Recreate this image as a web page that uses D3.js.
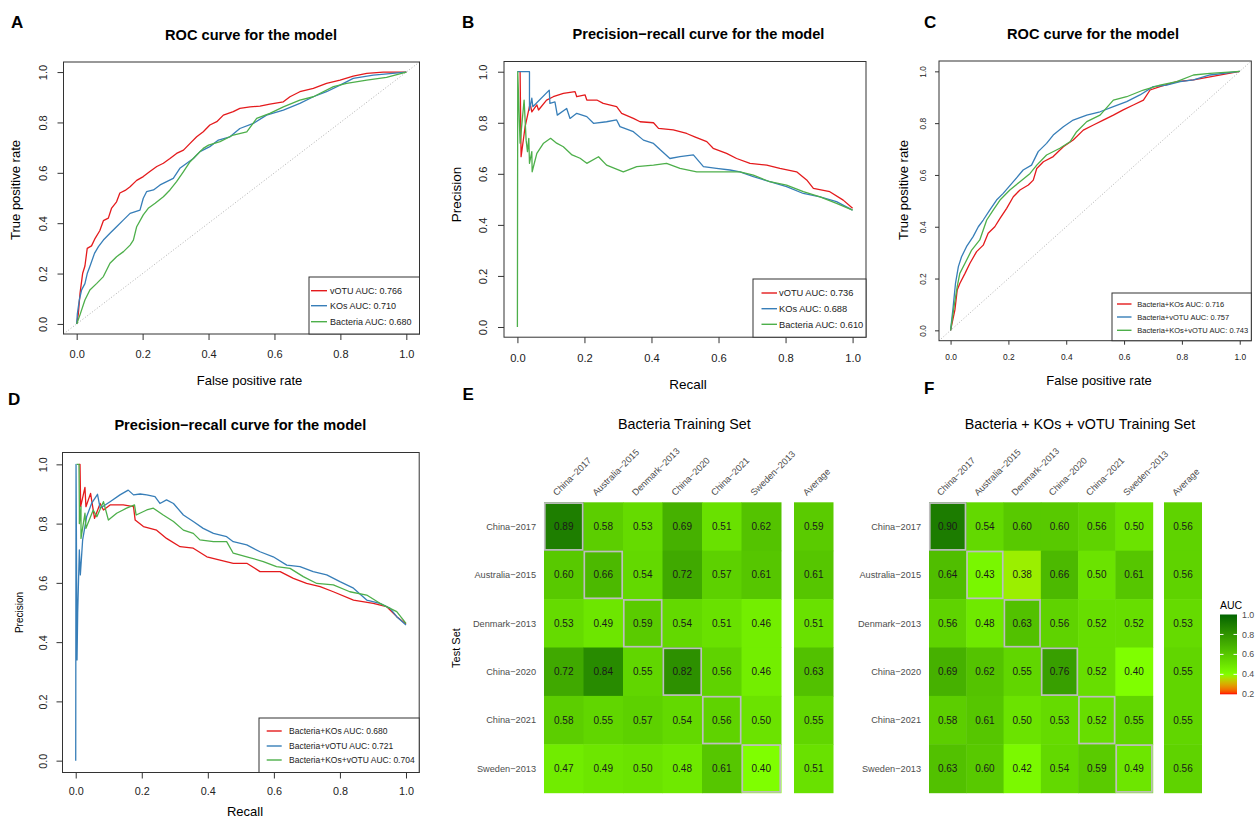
<!DOCTYPE html>
<html>
<head>
<meta charset="utf-8">
<script src="https://cdn.jsdelivr.net/npm/d3@7"></script>
<style>
  html, body { margin: 0; padding: 0; background: #fff; }
  svg { display: block; }
</style>
</head>
<body>
<svg id="chart" width="1258" height="820"></svg>
<script>
// ---------------- DATA ----------------
// Panel A: ROC curves [FPR, TPR]
const rocA_vOTU = [[0,0],[0.005,0.04],[0.01,0.12],[0.018,0.2],[0.025,0.23],[0.032,0.30],[0.045,0.31],[0.056,0.34],[0.07,0.37],[0.081,0.41],[0.096,0.42],[0.106,0.46],[0.121,0.485],[0.131,0.52],[0.147,0.53],[0.162,0.545],[0.182,0.57],[0.202,0.585],[0.222,0.605],[0.243,0.625],[0.263,0.638],[0.283,0.657],[0.303,0.677],[0.324,0.69],[0.344,0.717],[0.364,0.743],[0.384,0.763],[0.404,0.79],[0.425,0.803],[0.445,0.829],[0.475,0.843],[0.495,0.856],[0.526,0.862],[0.556,0.865],[0.586,0.873],[0.627,0.882],[0.647,0.902],[0.677,0.922],[0.718,0.935],[0.758,0.955],[0.799,0.968],[0.839,0.984],[0.88,0.995],[0.93,1.0],[1,1]];
const rocA_KOs = [[0,0],[0.002,0.04],[0.008,0.095],[0.015,0.135],[0.025,0.16],[0.032,0.2],[0.04,0.228],[0.054,0.28],[0.066,0.307],[0.081,0.333],[0.101,0.36],[0.121,0.386],[0.142,0.413],[0.162,0.439],[0.192,0.452],[0.202,0.499],[0.212,0.525],[0.233,0.532],[0.253,0.552],[0.273,0.565],[0.293,0.578],[0.313,0.618],[0.334,0.638],[0.354,0.657],[0.374,0.684],[0.404,0.704],[0.43,0.73],[0.465,0.743],[0.495,0.776],[0.536,0.796],[0.576,0.829],[0.627,0.849],[0.677,0.876],[0.718,0.902],[0.758,0.922],[0.799,0.948],[0.839,0.975],[0.9,0.988],[1,1]];
const rocA_Bacteria = [[0,0],[0.01,0.036],[0.025,0.095],[0.04,0.135],[0.061,0.161],[0.081,0.188],[0.101,0.241],[0.121,0.267],[0.142,0.287],[0.162,0.313],[0.172,0.333],[0.182,0.386],[0.202,0.433],[0.217,0.459],[0.238,0.479],[0.263,0.505],[0.283,0.532],[0.303,0.565],[0.324,0.605],[0.344,0.644],[0.364,0.671],[0.384,0.697],[0.4,0.71],[0.435,0.724],[0.475,0.75],[0.516,0.763],[0.546,0.816],[0.586,0.836],[0.627,0.862],[0.677,0.889],[0.718,0.902],[0.779,0.942],[0.819,0.955],[0.88,0.968],[0.94,0.979],[1,1]];
const legendA = ["vOTU AUC: 0.766","KOs AUC: 0.710","Bacteria AUC: 0.680"];

// Panel B: PR curves [Recall, Precision]
const prB_vOTU = [[0.008,1.0],[0.011,0.667],[0.023,0.785],[0.038,0.876],[0.043,0.843],[0.058,0.87],[0.063,0.85],[0.087,0.889],[0.107,0.902],[0.137,0.915],[0.172,0.922],[0.177,0.902],[0.202,0.909],[0.207,0.889],[0.237,0.889],[0.256,0.876],[0.296,0.863],[0.311,0.837],[0.346,0.817],[0.366,0.804],[0.406,0.8],[0.421,0.778],[0.465,0.772],[0.505,0.758],[0.529,0.745],[0.565,0.726],[0.584,0.7],[0.624,0.68],[0.654,0.66],[0.694,0.641],[0.744,0.634],[0.783,0.621],[0.833,0.608],[0.863,0.576],[0.883,0.543],[0.932,0.53],[0.972,0.497],[1,0.465]];
const prB_KOs = [[0,1.0],[0.036,1.0],[0.036,0.85],[0.043,0.896],[0.046,0.863],[0.095,0.928],[0.097,0.876],[0.112,0.882],[0.119,0.83],[0.147,0.856],[0.157,0.817],[0.177,0.837],[0.207,0.824],[0.227,0.798],[0.266,0.804],[0.296,0.811],[0.306,0.785],[0.346,0.765],[0.376,0.732],[0.406,0.719],[0.427,0.693],[0.455,0.66],[0.485,0.667],[0.525,0.674],[0.555,0.628],[0.594,0.621],[0.634,0.615],[0.664,0.608],[0.704,0.589],[0.753,0.569],[0.803,0.55],[0.853,0.523],[0.903,0.51],[0.952,0.491],[1,0.458]];
const prB_Bacteria = [[0,0],[0.001,1.0],[0.008,0.72],[0.02,0.889],[0.026,0.732],[0.03,0.687],[0.034,0.739],[0.036,0.641],[0.043,0.687],[0.044,0.608],[0.058,0.68],[0.078,0.72],[0.099,0.739],[0.117,0.72],[0.137,0.706],[0.163,0.674],[0.187,0.661],[0.207,0.641],[0.242,0.667],[0.266,0.634],[0.316,0.608],[0.356,0.628],[0.406,0.634],[0.445,0.641],[0.485,0.621],[0.535,0.608],[0.584,0.608],[0.664,0.608],[0.704,0.595],[0.753,0.569],[0.803,0.556],[0.853,0.53],[0.903,0.51],[0.952,0.484],[1,0.458]];
const legendB = ["vOTU AUC: 0.736","KOs AUC: 0.688","Bacteria AUC: 0.610"];

// Panel C: ROC curves for combined models
const rocC_BactKOs = [[0,0],[0.015,0.079],[0.023,0.156],[0.032,0.181],[0.05,0.22],[0.067,0.259],[0.09,0.304],[0.113,0.329],[0.13,0.375],[0.153,0.4],[0.171,0.432],[0.194,0.471],[0.217,0.516],[0.24,0.542],[0.269,0.561],[0.286,0.58],[0.298,0.625],[0.321,0.651],[0.355,0.671],[0.39,0.709],[0.424,0.735],[0.459,0.773],[0.494,0.793],[0.528,0.812],[0.563,0.831],[0.597,0.851],[0.632,0.87],[0.667,0.889],[0.69,0.928],[0.724,0.941],[0.782,0.96],[0.84,0.967],[0.897,0.979],[1,1]];
const rocC_BactvOTU = [[0,0],[0.009,0.091],[0.017,0.181],[0.027,0.246],[0.038,0.284],[0.055,0.323],[0.078,0.362],[0.096,0.4],[0.113,0.426],[0.136,0.465],[0.159,0.503],[0.182,0.529],[0.217,0.574],[0.251,0.619],[0.28,0.638],[0.303,0.69],[0.332,0.722],[0.355,0.754],[0.39,0.786],[0.424,0.812],[0.471,0.831],[0.517,0.844],[0.563,0.864],[0.609,0.883],[0.655,0.909],[0.701,0.941],[0.747,0.947],[0.794,0.96],[0.84,0.967],[0.897,0.986],[1,1]];
const rocC_BactKOsvOTU = [[0,0],[0.012,0.091],[0.023,0.169],[0.032,0.22],[0.05,0.259],[0.073,0.31],[0.101,0.349],[0.125,0.426],[0.148,0.465],[0.171,0.503],[0.205,0.542],[0.24,0.574],[0.275,0.606],[0.298,0.638],[0.332,0.677],[0.378,0.703],[0.413,0.728],[0.436,0.767],[0.471,0.806],[0.517,0.831],[0.563,0.889],[0.609,0.902],[0.667,0.928],[0.724,0.947],[0.782,0.96],[0.84,0.986],[0.897,0.992],[1,1]];
const legendC = ["Bacteria+KOs AUC: 0.716","Bacteria+vOTU AUC: 0.757","Bacteria+KOs+vOTU AUC: 0.743"];

// Panel D: PR curves for combined models
const prD_BactKOs = [[0.01,1.0],[0.013,1.0],[0.015,0.857],[0.028,0.922],[0.031,0.857],[0.045,0.902],[0.057,0.818],[0.074,0.868],[0.084,0.846],[0.104,0.863],[0.144,0.863],[0.175,0.857],[0.18,0.812],[0.205,0.79],[0.245,0.778],[0.275,0.75],[0.316,0.722],[0.356,0.717],[0.397,0.688],[0.437,0.677],[0.477,0.666],[0.518,0.666],[0.558,0.638],[0.619,0.638],[0.659,0.615],[0.699,0.598],[0.74,0.587],[0.78,0.57],[0.841,0.542],[0.901,0.531],[0.941,0.52],[0.972,0.486],[1,0.461]];
const prD_BactvOTU = [[0,0],[0.001,1.0],[0.004,0.34],[0.006,0.5],[0.011,0.711],[0.014,0.627],[0.021,0.745],[0.033,0.823],[0.048,0.868],[0.066,0.899],[0.074,0.852],[0.104,0.874],[0.134,0.897],[0.159,0.913],[0.175,0.897],[0.195,0.9],[0.215,0.897],[0.24,0.891],[0.255,0.868],[0.275,0.88],[0.296,0.868],[0.326,0.829],[0.356,0.807],[0.386,0.784],[0.417,0.767],[0.457,0.756],[0.477,0.739],[0.518,0.728],[0.558,0.705],[0.598,0.688],[0.639,0.66],[0.679,0.655],[0.719,0.638],[0.76,0.627],[0.8,0.604],[0.841,0.582],[0.881,0.542],[0.921,0.531],[0.952,0.514],[0.972,0.486],[1,0.458]];
const prD_BactKOsvOTU = [[0.003,1.0],[0.01,1.0],[0.011,0.857],[0.011,0.8],[0.016,0.857],[0.016,0.75],[0.028,0.835],[0.031,0.784],[0.053,0.846],[0.064,0.823],[0.084,0.874],[0.099,0.812],[0.124,0.835],[0.154,0.852],[0.178,0.863],[0.183,0.829],[0.215,0.846],[0.235,0.852],[0.265,0.829],[0.296,0.807],[0.326,0.778],[0.356,0.767],[0.376,0.745],[0.417,0.739],[0.457,0.739],[0.477,0.7],[0.518,0.688],[0.568,0.672],[0.608,0.655],[0.649,0.649],[0.689,0.621],[0.73,0.598],[0.78,0.593],[0.83,0.57],[0.881,0.559],[0.921,0.531],[0.972,0.503],[1,0.463]];
const legendD = ["Bacteria+KOs AUC: 0.680","Bacteria+vOTU AUC: 0.721","Bacteria+KOs+vOTU AUC: 0.704"];

const axisTicks = [0, 0.2, 0.4, 0.6, 0.8, 1.0];
const lineColors = ["#E41A1C", "#377EB8", "#4DAF4A"];

// Panels E/F: cross-cohort AUC heatmaps
const cohorts = ["China−2017", "Australia−2015", "Denmark−2013", "China−2020", "China−2021", "Sweden−2013"];
const aucE = [
  [0.89, 0.58, 0.53, 0.69, 0.51, 0.62],
  [0.60, 0.66, 0.54, 0.72, 0.57, 0.61],
  [0.53, 0.49, 0.59, 0.54, 0.51, 0.46],
  [0.72, 0.84, 0.55, 0.82, 0.56, 0.46],
  [0.58, 0.55, 0.57, 0.54, 0.56, 0.50],
  [0.47, 0.49, 0.50, 0.48, 0.61, 0.40]
];
const avgE = [0.59, 0.61, 0.51, 0.63, 0.55, 0.51];
const aucF = [
  [0.90, 0.54, 0.60, 0.60, 0.56, 0.50],
  [0.64, 0.43, 0.38, 0.66, 0.50, 0.61],
  [0.56, 0.48, 0.63, 0.56, 0.52, 0.52],
  [0.69, 0.62, 0.55, 0.76, 0.52, 0.40],
  [0.58, 0.61, 0.50, 0.53, 0.52, 0.55],
  [0.63, 0.60, 0.42, 0.54, 0.59, 0.49]
];
const avgF = [0.56, 0.56, 0.53, 0.55, 0.55, 0.56];
const aucTicks = [0.2, 0.4, 0.6, 0.8, 1.0];

// ---------------- DRAWING ----------------
const FONT = "'Liberation Sans', Arial, Helvetica, sans-serif";
const svg = d3.select("#chart").style("font-family", FONT);

function txt(g, x, y, s, size, opts = {}) {
  const t = g.append("text").attr("x", x).attr("y", y).text(s)
    .attr("font-size", size).attr("fill", opts.fill || "#000")
    .attr("text-anchor", opts.anchor || "middle")
    .attr("dy", opts.dy || "0.35em");
  if (opts.weight) t.attr("font-weight", opts.weight);
  if (opts.rotate) t.attr("transform", `rotate(${opts.rotate},${x},${y})`);
  return t;
}

function rPlot(o) {
  const g = svg.append("g");
  const x = d3.scaleLinear().domain([-0.04, 1.04]).range([o.left, o.right]);
  const y = d3.scaleLinear().domain([-0.04, 1.04]).range([o.bottom, o.top]);

  txt(g, o.letterX, o.letterY, o.letter, 17, {weight: "bold", anchor: "start", dy: "0"});
  txt(g, o.titleX, o.titleY, o.title, 14.6, {weight: "bold"});

  if (o.diag) {
    g.append("line").attr("x1", x(-0.04)).attr("y1", y(-0.04)).attr("x2", x(1.04)).attr("y2", y(1.04))
      .attr("stroke", "#9a9a9a").attr("stroke-width", 0.8).attr("stroke-dasharray", "1,2");
  }

  const line = d3.line().x(d => x(d[0])).y(d => y(d[1]));
  o.series.forEach((s, i) => {
    g.append("path").attr("d", line(s)).attr("fill", "none")
      .attr("stroke", lineColors[i]).attr("stroke-width", 1.3).attr("stroke-linejoin", "round");
  });

  g.append("rect").attr("x", o.left).attr("y", o.top).attr("width", o.right - o.left).attr("height", o.bottom - o.top)
    .attr("fill", "none").attr("stroke", "#333").attr("stroke-width", 1);

  const xa = g.append("g").attr("transform", `translate(0,${o.bottom})`)
    .call(d3.axisBottom(x).tickValues(axisTicks).tickFormat(d3.format(".1f")).tickSize(o.tick).tickSizeOuter(0));
  xa.select(".domain").remove();
  xa.selectAll("line").attr("stroke", "#333");
  xa.selectAll("text").attr("y", o.xTickOff).attr("dy", "0.35em").attr("font-size", o.tickFont)
    .attr("font-family", FONT).attr("fill", "#222");
  const ya = g.append("g").attr("transform", `translate(${o.left},0)`)
    .call(d3.axisLeft(y).tickValues(axisTicks).tickFormat(d3.format(".1f")).tickSize(o.tick).tickSizeOuter(0));
  ya.select(".domain").remove();
  ya.selectAll("line").attr("stroke", "#333");
  ya.selectAll("text").attr("x", -o.yTickOff).attr("dy", "0.35em").attr("font-size", o.tickFont)
    .attr("font-family", FONT).attr("fill", "#222").attr("text-anchor", "middle")
    .attr("transform", `rotate(-90,${-o.yTickOff},0)`);

  txt(g, o.xlabX, o.xlabY, o.xlab, o.xlabFont);
  txt(g, o.ylabX, o.ylabY, o.ylab, o.ylabFont, {rotate: -90});

  const L = o.legend;
  g.append("rect").attr("x", L.x0).attr("y", L.y0).attr("width", L.x1 - L.x0).attr("height", L.y1 - L.y0)
    .attr("fill", "#fff").attr("stroke", "#333").attr("stroke-width", 1);
  o.legendLabels.forEach((lab, i) => {
    g.append("line").attr("x1", L.lx0).attr("x2", L.lx1).attr("y1", L.ys[i]).attr("y2", L.ys[i])
      .attr("stroke", lineColors[i]).attr("stroke-width", 1.4);
    txt(g, L.tx, L.ys[i], lab, L.font, {anchor: "start", fill: "#222"});
  });
}

rPlot({
  letter: "A", letterX: 11, letterY: 28, title: "ROC curve for the model", titleX: 251, titleY: 35,
  left: 63.5, right: 419.5, top: 62, bottom: 334, tick: 6, tickFont: 11, xTickOff: 20, yTickOff: 20,
  diag: true, series: [rocA_vOTU, rocA_KOs, rocA_Bacteria],
  xlab: "False positive rate", xlabX: 249.5, xlabY: 380, xlabFont: 13,
  ylab: "True positive rate", ylabX: 15, ylabY: 190, ylabFont: 13,
  legend: {x0: 309, x1: 419.5, y0: 277, y1: 334, lx0: 311, lx1: 327, tx: 330, ys: [290.7, 305.7, 321.7], font: 9},
  legendLabels: legendA
});
rPlot({
  letter: "B", letterX: 462, letterY: 28, title: "Precision−recall curve for the model", titleX: 698.5, titleY: 33.5,
  left: 504, right: 866, top: 61.5, bottom: 337.2, tick: 6, tickFont: 11.2, xTickOff: 21, yTickOff: 21,
  diag: false, series: [prB_vOTU, prB_KOs, prB_Bacteria],
  xlab: "Recall", xlabX: 688, xlabY: 384, xlabFont: 13.5,
  ylab: "Precision", ylabX: 456, ylabY: 194.5, ylabFont: 13.5,
  legend: {x0: 753, x1: 866, y0: 279, y1: 337.2, lx0: 761.5, lx1: 777, tx: 779, ys: [293, 308.7, 324.3], font: 9.3},
  legendLabels: legendB
});
rPlot({
  letter: "C", letterX: 924, letterY: 28, title: "ROC curve for the model", titleX: 1093, titleY: 34,
  left: 939, right: 1251.3, top: 61, bottom: 340.7, tick: 4, tickFont: 8.4, xTickOff: 16.6, yTickOff: 16.4,
  diag: true, series: [rocC_BactKOs, rocC_BactvOTU, rocC_BactKOsvOTU],
  xlab: "False positive rate", xlabX: 1099, xlabY: 380, xlabFont: 13,
  ylab: "True positive rate", ylabX: 903.3, ylabY: 190, ylabFont: 13,
  legend: {x0: 1112, x1: 1251.3, y0: 293, y1: 340.7, lx0: 1117, lx1: 1131.5, tx: 1137.3, ys: [304, 317, 330.3], font: 7.5},
  legendLabels: legendC
});
rPlot({
  letter: "D", letterX: 8, letterY: 405, title: "Precision−recall curve for the model", titleX: 240.3, titleY: 425,
  left: 62.5, right: 419.2, top: 452.5, bottom: 772.5, tick: 6, tickFont: 10.8, xTickOff: 18.5, yTickOff: 19,
  diag: false, series: [prD_BactKOs, prD_BactvOTU, prD_BactKOsvOTU],
  xlab: "Recall", xlabX: 245, xlabY: 811, xlabFont: 13,
  ylab: "Precision", ylabX: 19, ylabY: 612.5, ylabFont: 10,
  legend: {x0: 259, x1: 419.2, y0: 718, y1: 772.5, lx0: 266.7, lx1: 281.7, tx: 289, ys: [731, 746, 760], font: 8.5},
  legendLabels: legendD
});

const color = d3.scaleLinear().domain([0.2, 0.4, 1.0]).range(["#FF0000", "#7FFF00", "#006400"])
  .interpolate(d3.interpolateLab).clamp(true);

function heat(o) {
  const g = svg.append("g");
  const xb = d3.scaleBand().domain(cohorts).range([o.left, o.right]);
  const yb = d3.scaleBand().domain(cohorts).range([o.top, o.bottom]);
  const xa = d3.scaleBand().domain(["Average"]).range([o.avgLeft, o.avgRight]);

  txt(g, o.letterX, o.letterY, o.letter, 17, {weight: "bold", anchor: "start", dy: "0"});
  txt(g, o.titleX, 424, o.title, 14.3);

  o.vals.forEach((row, i) => {
    row.forEach((v, j) => {
      g.append("rect").attr("x", xb(cohorts[j])).attr("y", yb(cohorts[i]))
        .attr("width", xb.bandwidth() + 0.5).attr("height", yb.bandwidth() + 0.5).attr("fill", color(v));
    });
    g.append("rect").attr("x", xa("Average")).attr("y", yb(cohorts[i]))
      .attr("width", xa.bandwidth()).attr("height", yb.bandwidth() + 0.5).attr("fill", color(o.avg[i]));
  });
  cohorts.forEach((c, i) => {
    g.append("rect").attr("x", xb(c) + 0.8).attr("y", yb(c) + 0.8)
      .attr("width", xb.bandwidth() - 1.6).attr("height", yb.bandwidth() - 1.6)
      .attr("fill", "none").attr("stroke", "#BEBEBE").attr("stroke-width", 1.7);
  });
  o.vals.forEach((row, i) => {
    row.forEach((v, j) => {
      txt(g, xb(cohorts[j]) + xb.bandwidth() / 2, yb(cohorts[i]) + yb.bandwidth() / 2, v.toFixed(2), 10, {fill: "#1a1a1a"});
    });
    txt(g, xa("Average") + xa.bandwidth() / 2, yb(cohorts[i]) + yb.bandwidth() / 2, o.avg[i].toFixed(2), 10, {fill: "#1a1a1a"});
  });
  cohorts.forEach(c => {
    txt(g, o.left - 8, yb(c) + yb.bandwidth() / 2, c, 9.2, {anchor: "end", fill: "#4D4D4D"});
  });
  const colLab = (cx, s) => {
    const lx = cx - 7, ly = o.top - 6;
    g.append("text").attr("x", lx).attr("y", ly).text(s).attr("font-size", 9.2).attr("fill", "#4D4D4D")
      .attr("text-anchor", "start").attr("transform", `rotate(-45,${lx},${ly})`);
  };
  cohorts.forEach(c => colLab(xb(c) + xb.bandwidth() / 2, c));
  colLab(xa("Average") + xa.bandwidth() / 2, "Average");
  if (o.yTitle) txt(g, 456, 648, "Test Set", 11, {rotate: -90});
}

heat({letter: "E", letterX: 462.5, letterY: 400, title: "Bacteria Training Set", titleX: 684.3,
  left: 544, right: 781, avgLeft: 794, avgRight: 833.5, top: 502.3, bottom: 792.7,
  vals: aucE, avg: avgE, yTitle: true});
heat({letter: "F", letterX: 924, letterY: 394, title: "Bacteria + KOs + vOTU Training Set", titleX: 1080,
  left: 929, right: 1152.7, avgLeft: 1164, avgRight: 1202, top: 502.3, bottom: 792.7,
  vals: aucF, avg: avgF, yTitle: false});

(function () {
  const g = svg.append("g");
  const yl = d3.scaleLinear().domain([0.2, 1.0]).range([694.3, 614.5]);
  const defs = svg.append("defs");
  const grad = defs.append("linearGradient").attr("id", "aucgrad").attr("x1", 0).attr("y1", 1).attr("x2", 0).attr("y2", 0);
  d3.range(0, 1.0001, 0.02).forEach(t => {
    grad.append("stop").attr("offset", t).attr("stop-color", color(0.2 + 0.8 * t));
  });
  txt(g, 1220, 605, "AUC", 10.5, {anchor: "start"});
  g.append("rect").attr("x", 1220).attr("y", yl(1.0)).attr("width", 17).attr("height", yl(0.2) - yl(1.0))
    .attr("fill", "url(#aucgrad)");
  aucTicks.forEach(v => {
    if (v > 0.2 && v < 1.0) {
      g.append("line").attr("x1", 1220).attr("x2", 1223.5).attr("y1", yl(v)).attr("y2", yl(v)).attr("stroke", "#fff").attr("stroke-width", 1);
      g.append("line").attr("x1", 1233.5).attr("x2", 1237).attr("y1", yl(v)).attr("y2", yl(v)).attr("stroke", "#fff").attr("stroke-width", 1);
    }
    txt(g, 1242, yl(v), v.toFixed(1), 8.8, {anchor: "start", fill: "#4D4D4D"});
  });
})();
</script>
</body>
</html>
